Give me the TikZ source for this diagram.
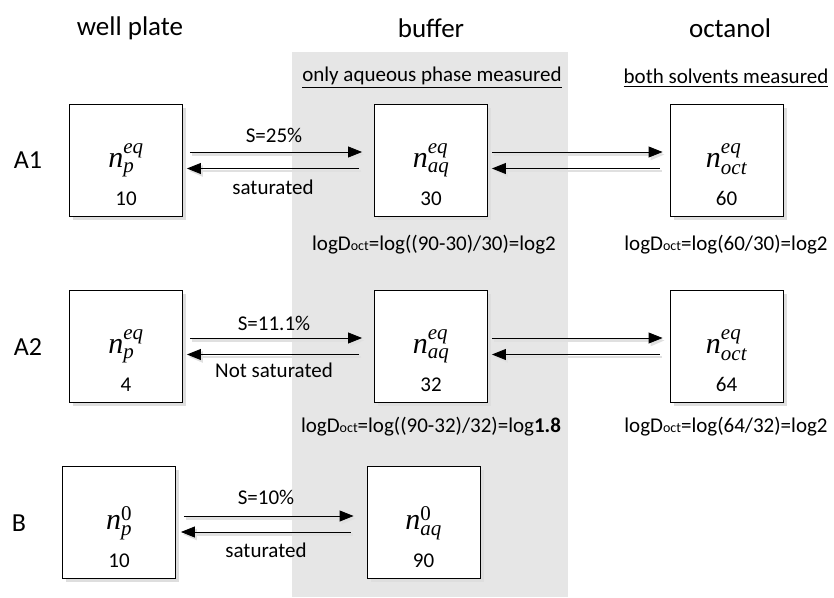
\documentclass[tikz,border=0pt]{standalone}
\usepackage{amsmath}
\usepackage{fontspec}
\setmainfont{Carlito}
\newfontfamily\mfont{Liberation Serif}
\usetikzlibrary{arrows.meta,shadows}
\definecolor{bandgray}{RGB}{230,230,230}
\newcommand{\nsym}[2]{$\text{\mfont\itshape n}^{\text{\mfont\itshape #1}}_{\text{\mfont\itshape #2}}$}
\newcommand{\logd}[1]{log\hbox{D{\fontsize{14}{16}\selectfont oct}}=#1}
\tikzset{
  box/.style={draw=black, line width=0.9pt, fill=white, minimum width=113pt, minimum height=112pt, inner sep=0pt,
    drop shadow={shadow xshift=3.5pt, shadow yshift=-3.5pt, fill=black!13, opacity=1}},
  txt/.style={font=\fontsize{21}{25}\selectfont, inner sep=0pt},
  num/.style={txt, text height=13pt, text depth=0pt, anchor=base},
  lbl/.style={font=\fontsize{26}{30}\selectfont, inner sep=0pt},
  hdr/.style={font=\fontsize{27}{31}\selectfont, inner sep=0pt},
  sym/.style={font=\fontsize{30}{34}\selectfont, inner sep=0pt, text depth=8pt, text height=18pt},
  arr/.style={line width=0.9pt, -{Triangle[length=14pt,width=11pt]},
    preaction={draw=black!12, line width=2.5pt, transform canvas={xshift=2pt,yshift=-2.5pt}}},
}
\begin{document}
\begin{tikzpicture}[x=1pt,y=-1pt]
\useasboundingbox (0,0) rectangle (834,597);
\fill[bandgray] (292,52) rectangle (568,597);

% headers
\node[hdr] (h1) at (130,28) {well plate};
\node[hdr] (h2) at (431,28) {buffer};
\node[hdr] (h3) at (730,28) {octanol};
\node[txt] (s2) at (432,78) {\underline{only aqueous phase measured}};
\node[txt] (s3) at (726,78) {\underline{both solvents measured}};

% row labels
\node[lbl] (lA1) at (28,160) {A1};
\node[lbl] (lA2) at (28,347) {A2};
\node[lbl] (lB) at (19,523) {B};

% boxes
\node[box] (wA1) at (126,160) {};
\node[box] (bA1) at (431,160) {};
\node[box] (oA1) at (726.5,160) {};
\node[box] (wA2) at (126,346) {};
\node[box] (bA2) at (431,346) {};
\node[box] (oA2) at (726.5,346) {};
\node[box] (wB) at (119,522.5) {};
\node[box] (bB) at (423.5,522.5) {};

% symbols and numbers
\node[sym] (nwA1) at ([yshift=-2pt]wA1.center) {\nsym{eq}{p}};
\node[num] (vwA1) at ([yshift=-45pt]wA1.center) {10};
\node[sym] (nbA1) at ([yshift=-2pt]bA1.center) {\nsym{eq}{aq}};
\node[num] (vbA1) at ([yshift=-45pt]bA1.center) {30};
\node[sym] (noA1) at ([yshift=-2pt]oA1.center) {\nsym{eq}{oct}};
\node[num] (voA1) at ([yshift=-45pt]oA1.center) {60};

\node[sym] (nwA2) at ([yshift=-2pt]wA2.center) {\nsym{eq}{p}};
\node[num] (vwA2) at ([yshift=-45pt]wA2.center) {4};
\node[sym] (nbA2) at ([yshift=-2pt]bA2.center) {\nsym{eq}{aq}};
\node[num] (vbA2) at ([yshift=-45pt]bA2.center) {32};
\node[sym] (noA2) at ([yshift=-2pt]oA2.center) {\nsym{eq}{oct}};
\node[num] (voA2) at ([yshift=-45pt]oA2.center) {64};

\node[sym] (nwB) at ([yshift=-2pt]wB.center) {\nsym{\upshape 0}{p}};
\node[num] (vwB) at ([yshift=-45pt]wB.center) {10};
\node[sym] (nbB) at ([yshift=-2pt]bB.center) {\nsym{\upshape 0}{aq}};
\node[num] (vbB) at ([yshift=-45pt]bB.center) {90};

% arrows A1
\draw[arr] ([xshift=7pt,yshift=8pt]wA1.east) -- ([xshift=-12pt,yshift=8pt]bA1.west);
\draw[arr] ([xshift=-15pt,yshift=-8.5pt]bA1.west) -- ([xshift=4pt,yshift=-8.5pt]wA1.east);
\draw[arr] ([xshift=4pt,yshift=8pt]bA1.east) -- ([xshift=-7pt,yshift=8pt]oA1.west);
\draw[arr] ([xshift=-10pt,yshift=-8.5pt]oA1.west) -- ([xshift=4pt,yshift=-8.5pt]bA1.east);
% arrows A2
\draw[arr] ([xshift=7pt,yshift=8pt]wA2.east) -- ([xshift=-12pt,yshift=8pt]bA2.west);
\draw[arr] ([xshift=-15pt,yshift=-8.5pt]bA2.west) -- ([xshift=4pt,yshift=-8.5pt]wA2.east);
\draw[arr] ([xshift=4pt,yshift=8pt]bA2.east) -- ([xshift=-7pt,yshift=8pt]oA2.west);
\draw[arr] ([xshift=-10pt,yshift=-8.5pt]oA2.west) -- ([xshift=4pt,yshift=-8.5pt]bA2.east);
% arrows B
\draw[arr] ([xshift=8pt,yshift=6.5pt]wB.east) -- ([xshift=-13pt,yshift=6.5pt]bB.west);
\draw[arr] ([xshift=-16pt,yshift=-9.5pt]bB.west) -- ([xshift=5pt,yshift=-9.5pt]wB.east);

% arrow labels
\node[txt] (t1) at (274,135) {S=25\%};
\node[txt] (t2) at (273,187) {saturated};
\node[txt] (t3) at (274,323) {S=11.1\%};
\node[txt] (t4) at (274,370) {Not saturated};
\node[txt] (t5) at (266,497) {S=10\%};
\node[txt] (t6) at (266,550) {saturated};

% logD texts
\node[txt] (d1) at (434,245) {\logd{log((90-30)/30)=log2}};
\node[txt] (d2) at (726,245) {\logd{log(60/30)=log2}};
\node[txt] (d3) at (431,427) {\logd{log((90-32)/32)=log\textbf{1.8}}};
\node[txt] (d4) at (726,427) {\logd{log(64/32)=log2}};
\end{tikzpicture}
\end{document}
